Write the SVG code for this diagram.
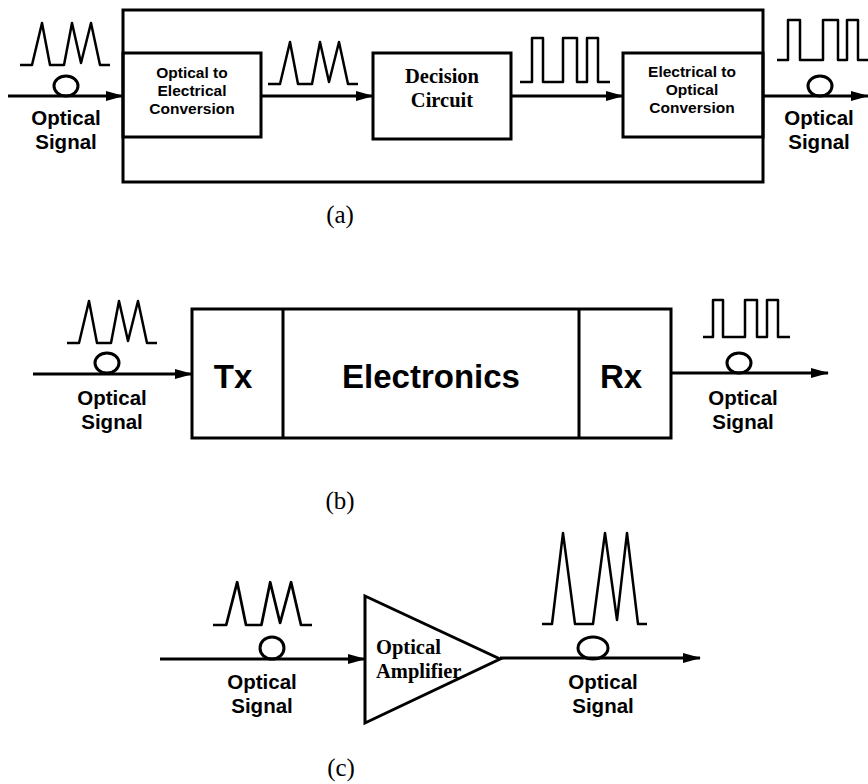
<svg xmlns="http://www.w3.org/2000/svg" width="868" height="784" viewBox="0 0 868 784">
<defs>
<marker id="ah" markerUnits="userSpaceOnUse" markerWidth="18" markerHeight="12" refX="17" refY="6" orient="auto">
<path d="M0,1 L18,6 L0,11 Z" fill="#000"/>
</marker>
<path id="tri" d="M0,0 H12 L22,-42 L30,0 H44 L52,-42 L61,-2 L71,-42 L80,0 H90" fill="none" stroke="#000" stroke-width="2.5" stroke-linejoin="round"/>
</defs>
<style>
.box{fill:none;stroke:#000;stroke-width:3}
.ln{fill:none;stroke:#000;stroke-width:3}
.wave{fill:none;stroke:#000;stroke-width:2.5;stroke-linejoin:round}
.loop{fill:none;stroke:#000;stroke-width:3}
.sig{font-family:"Liberation Sans",Arial,sans-serif;font-weight:bold;font-size:20.5px;text-anchor:middle}
.sm{font-family:"Liberation Sans",Arial,sans-serif;font-weight:bold;font-size:15.5px;text-anchor:middle}
.big{font-family:"Liberation Sans",Arial,sans-serif;font-weight:bold;font-size:33px;text-anchor:middle}
.tm{font-family:"Liberation Serif","Times New Roman",serif;font-weight:bold;font-size:20.5px}
.cap{font-family:"Liberation Serif","Times New Roman",serif;font-size:25px;text-anchor:middle}
</style>
<rect width="868" height="784" fill="#fff"/>

<!-- Panel (a) -->
<g id="a-frame"><rect class="box" x="123" y="10" width="640" height="172"/></g>
<g id="a-oe">
<rect class="box" x="123" y="53" width="138" height="84"/>
<text class="sm" x="192" y="78">Optical to</text>
<text class="sm" x="192" y="96">Electrical</text>
<text class="sm" x="192" y="114">Conversion</text>
</g>
<g id="a-decision">
<rect class="box" x="373" y="53" width="138" height="86"/>
<text class="tm" x="442" y="83" text-anchor="middle">Decision</text>
<text class="tm" x="442" y="107" text-anchor="middle">Circuit</text>
</g>
<g id="a-eo">
<rect class="box" x="623" y="53" width="140" height="84"/>
<text class="sm" x="692" y="77">Electrical to</text>
<text class="sm" x="692" y="95">Optical</text>
<text class="sm" x="692" y="113">Conversion</text>
</g>
<g id="a-in-label">
<use href="#tri" x="20" y="65"/>
<ellipse class="loop" cx="66" cy="86" rx="12" ry="10"/>
<text class="sig" x="66" y="125">Optical</text>
<text class="sig" x="66" y="149">Signal</text>
</g>
<g id="a-mid-wave"><use href="#tri" x="268" y="84"/></g>
<g id="a-sq-wave"><path class="wave" d="M520,82 H532 V38 H543 V82 H563 V38 H577 V82 H587 V38 H598 V82 H610"/></g>
<g id="a-out-label">
<path class="wave" d="M777,60 H788 V20 H800 V60 H823 V20 H838 V60 H847 V20 H858 V60 H868"/>
<ellipse class="loop" cx="820" cy="86" rx="12" ry="10"/>
<text class="sig" x="819" y="125">Optical</text>
<text class="sig" x="819" y="149">Signal</text>
</g>
<text class="cap" x="340" y="223">(a)</text>

<!-- Panel (b) -->
<g id="b-box">
<rect class="box" x="192" y="309" width="479" height="129"/>
<line class="ln" x1="283" y1="309" x2="283" y2="438"/>
<line class="ln" x1="579" y1="309" x2="579" y2="438"/>
<text class="big" x="233" y="388">Tx</text>
<text class="big" x="431" y="388">Electronics</text>
<text class="big" x="621" y="388">Rx</text>
</g>
<g id="b-in-label">
<use href="#tri" x="67" y="343"/>
<ellipse class="loop" cx="107" cy="363" rx="12" ry="10"/>
<text class="sig" x="112" y="405">Optical</text>
<text class="sig" x="112" y="429">Signal</text>
</g>
<g id="b-out-label">
<path class="wave" d="M703,337 H713 V300 H723 V337 H745 V300 H757 V337 H767 V300 H778 V337 H790"/>
<ellipse class="loop" cx="739" cy="363" rx="12" ry="10"/>
<text class="sig" x="743" y="405">Optical</text>
<text class="sig" x="743" y="429">Signal</text>
</g>
<text class="cap" x="340" y="509">(b)</text>

<!-- Panel (c) -->
<g id="c-amp">
<path class="box" d="M365,596 L500,659 L365,723 Z"/>
<text class="tm" x="376" y="654">Optical</text>
<text class="tm" x="376" y="678">Amplifier</text>
</g>
<g id="c-in-label">
<use href="#tri" transform="translate(213,625) scale(1.1,1.02)"/>
<ellipse class="loop" cx="272" cy="648" rx="12" ry="11"/>
<text class="sig" x="262" y="689">Optical</text>
<text class="sig" x="262" y="713">Signal</text>
</g>
<g id="c-out-label">
<path class="wave" d="M542,624 H552 L563,533 L575,624 H593 L605,533 L617,620 L627,533 L638,624 H647"/>
<ellipse class="loop" cx="593" cy="648" rx="15" ry="11"/>
<text class="sig" x="603" y="689">Optical</text>
<text class="sig" x="603" y="713">Signal</text>
</g>
<text class="cap" x="341" y="776">(c)</text>

<!-- Connectors -->
<g id="connectors">
<line class="ln" x1="8" y1="96" x2="123" y2="96" marker-end="url(#ah)"/>
<line class="ln" x1="261" y1="96" x2="373" y2="96" marker-end="url(#ah)"/>
<line class="ln" x1="511" y1="96" x2="623" y2="96" marker-end="url(#ah)"/>
<line class="ln" x1="763" y1="96" x2="868" y2="96" marker-end="url(#ah)"/>
<line class="ln" x1="33" y1="374" x2="192" y2="374" marker-end="url(#ah)"/>
<line class="ln" x1="671" y1="373" x2="828" y2="373" marker-end="url(#ah)"/>
<line class="ln" x1="160" y1="659" x2="365" y2="659" marker-end="url(#ah)"/>
<line class="ln" x1="500" y1="658" x2="700" y2="658" marker-end="url(#ah)"/>
</g>
</svg>
